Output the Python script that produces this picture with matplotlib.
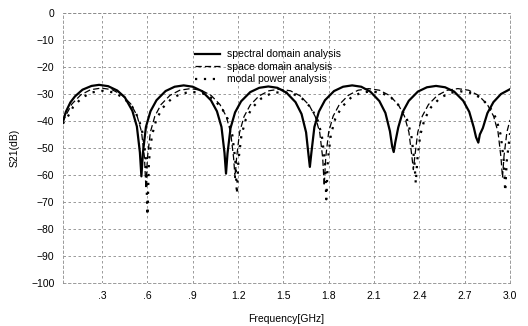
import matplotlib
matplotlib.use('Agg')
import matplotlib.pyplot as plt

plt.rcParams['font.family'] = ['Liberation Sans', 'DejaVu Sans']

# ─── Data ─────────────────────────────────────────────────────────────────────
# spectral domain analysis (solid)
f_spec = [0.04, 0.06, 0.09, 0.12, 0.17, 0.23, 0.28, 0.34, 0.40, 0.45, 0.50, 0.53, 0.55, 0.56,
          0.57, 0.59, 0.62, 0.66, 0.72, 0.78, 0.84, 0.90, 0.96, 1.02, 1.06, 1.09, 1.11, 1.12,
          1.13, 1.15, 1.18, 1.22, 1.28, 1.34, 1.40, 1.46, 1.52, 1.58, 1.62, 1.65, 1.665, 1.675,
          1.685, 1.705, 1.735, 1.775, 1.835, 1.895, 1.955, 2.015, 2.075, 2.135, 2.175, 2.205, 2.22, 2.23,
          2.24, 2.26, 2.29, 2.33, 2.39, 2.45, 2.51, 2.57, 2.63, 2.69, 2.73, 2.76, 2.775, 2.79,
          2.80, 2.82, 2.85, 2.89, 2.94, 3.0]
s_spec = [-40.3, -36.6, -33.1, -30.9, -28.4, -27.0, -26.6, -27.1, -28.7, -31.2, -36.2, -42.0, -51.6, -60.5,
          -51.8, -42.2, -36.4, -32.3, -28.9, -27.3, -26.8, -27.3, -28.9, -32.3, -36.4, -42.2, -51.8, -59.5,
          -52.0, -42.6, -36.8, -32.7, -29.3, -27.7, -27.2, -27.7, -29.5, -33.0, -37.4, -44.2, -52.0, -57.0,
          -51.8, -42.2, -36.5, -32.3, -28.9, -27.3, -26.8, -27.3, -29.1, -32.6, -37.0, -43.8, -49.5, -51.5,
          -48.0, -42.4, -36.6, -32.5, -29.1, -27.5, -27.0, -27.5, -29.1, -32.5, -36.6, -42.4, -46.0, -48.0,
          -45.0, -42.6, -37.1, -33.0, -30.0, -28.2]

# space domain analysis (dashed)
f_space = [0.04, 0.059, 0.10, 0.159, 0.224, 0.295, 0.366, 0.431, 0.49, 0.531, 0.5605, 0.58, 0.59,
           0.60, 0.6195, 0.649, 0.69, 0.749, 0.814, 0.885, 0.956, 1.021, 1.08, 1.121, 1.1505, 1.17, 1.18,
           1.19, 1.2095, 1.239, 1.28, 1.339, 1.404, 1.475, 1.546, 1.611, 1.67, 1.711, 1.7405, 1.76, 1.77,
           1.78, 1.7995, 1.829, 1.87, 1.929, 1.994, 2.065, 2.136, 2.201, 2.26, 2.301, 2.3305, 2.35, 2.36,
           2.37, 2.3895, 2.419, 2.46, 2.519, 2.584, 2.655, 2.726, 2.791, 2.85, 2.891, 2.9205, 2.94, 2.95,
           2.96, 2.9795, 3.0]
s_space = [-40.5, -38.0, -33.7, -30.3, -28.4, -27.8, -28.4, -30.3, -33.7, -38.0, -43.9, -53.3, -65.0,
           -53.5, -44.1, -38.2, -33.9, -30.5, -28.6, -28.0, -28.6, -30.5, -33.9, -38.2, -44.1, -53.5, -61.0,
           -53.7, -44.3, -38.4, -34.1, -30.7, -28.8, -28.2, -28.8, -30.7, -34.1, -38.4, -44.3, -53.7, -64.0,
           -53.5, -44.1, -38.2, -33.9, -30.5, -28.6, -28.0, -28.6, -30.5, -33.9, -38.2, -44.1, -53.0, -58.0,
           -53.0, -44.1, -38.2, -33.9, -30.5, -28.6, -28.0, -28.6, -30.5, -33.9, -38.2, -44.1, -53.5, -61.0,
           -53.0, -44.0, -39.6]

# modal power analysis (dotted)
f_modal = [0.04, 0.067, 0.109, 0.168, 0.233, 0.304, 0.375, 0.44, 0.499, 0.541, 0.57, 0.59, 0.60,
           0.61, 0.63, 0.659, 0.701, 0.76, 0.825, 0.896, 0.967, 1.032, 1.091, 1.133, 1.162, 1.182, 1.192,
           1.202, 1.222, 1.251, 1.293, 1.352, 1.417, 1.488, 1.559, 1.624, 1.683, 1.725, 1.754, 1.774, 1.784,
           1.794, 1.814, 1.843, 1.885, 1.944, 2.009, 2.08, 2.151, 2.216, 2.275, 2.317, 2.346, 2.366, 2.376,
           2.386, 2.406, 2.435, 2.477, 2.536, 2.601, 2.672, 2.743, 2.808, 2.867, 2.909, 2.938, 2.958, 2.968,
           2.978, 2.998, 3.0]
s_modal = [-41.0, -39.0, -34.7, -31.3, -29.4, -28.8, -29.4, -31.3, -34.7, -39.0, -44.9, -54.3, -75.0,
           -54.7, -45.3, -39.4, -35.1, -31.7, -29.8, -29.2, -29.8, -31.7, -35.1, -39.4, -45.3, -54.7, -67.0,
           -54.7, -45.3, -39.4, -35.1, -31.7, -29.8, -29.2, -29.8, -31.7, -35.1, -39.4, -45.3, -54.7, -69.0,
           -54.5, -45.1, -39.2, -34.9, -31.5, -29.6, -29.0, -29.6, -31.5, -34.9, -39.2, -45.1, -54.5, -63.0,
           -54.5, -45.1, -39.2, -34.9, -31.5, -29.6, -29.0, -29.6, -31.5, -34.9, -39.2, -45.1, -54.5, -66.0,
           -55.0, -45.5, -44.5]

x_ticks = [0.3, 0.6, 0.9, 1.2, 1.5, 1.8, 2.1, 2.4, 2.7, 3.0]
x_labels = ['.3', '.6', '.9', '1.2', '1.5', '1.8', '2.1', '2.4', '2.7', '3.0']
y_ticks = [0, -10, -20, -30, -40, -50, -60, -70, -80, -90, -100]

# ─── Figure ───────────────────────────────────────────────────────────────────
fig = plt.figure(figsize=(5.28, 3.26), dpi=100)
ax = fig.add_axes([0.119, 0.132, 0.847, 0.828])

ax.plot(f_spec, s_spec, color='black', lw=1.6, label='spectral domain analysis', zorder=4)
ax.plot(f_space, s_space, color='black', lw=0.9, ls=(0, (5, 2.5)), label='space domain analysis', zorder=3)
ax.plot(f_modal, s_modal, color='black', lw=1.6, ls=(0, (1, 3)), label='modal power analysis', zorder=3)

ax.set_xlim(0.04, 3.0)
ax.set_ylim(-100, 0)
ax.set_xticks(x_ticks)
ax.set_xticklabels(x_labels)
ax.set_yticks(y_ticks)
ax.tick_params(length=0, labelsize=7.5, pad=6)
ax.grid(True, color='#8a8a8a', ls=(0, (3, 3)), lw=0.6)
for sp in ax.spines.values():
    sp.set_color('#8a8a8a')
    sp.set_linestyle((0, (3, 3)))
    sp.set_linewidth(0.6)

ax.set_xlabel('Frequency[GHz]', fontsize=7.5, labelpad=9)
ax.set_ylabel('S21(dB)', fontsize=7.5, labelpad=8)

ax.legend(loc='upper left', bbox_to_anchor=(0.285, 0.885), frameon=False, fontsize=7.5,
          handlelength=2.4, handletextpad=0.6, labelspacing=0.25, borderpad=0)

plt.savefig('out.png', dpi=100)
